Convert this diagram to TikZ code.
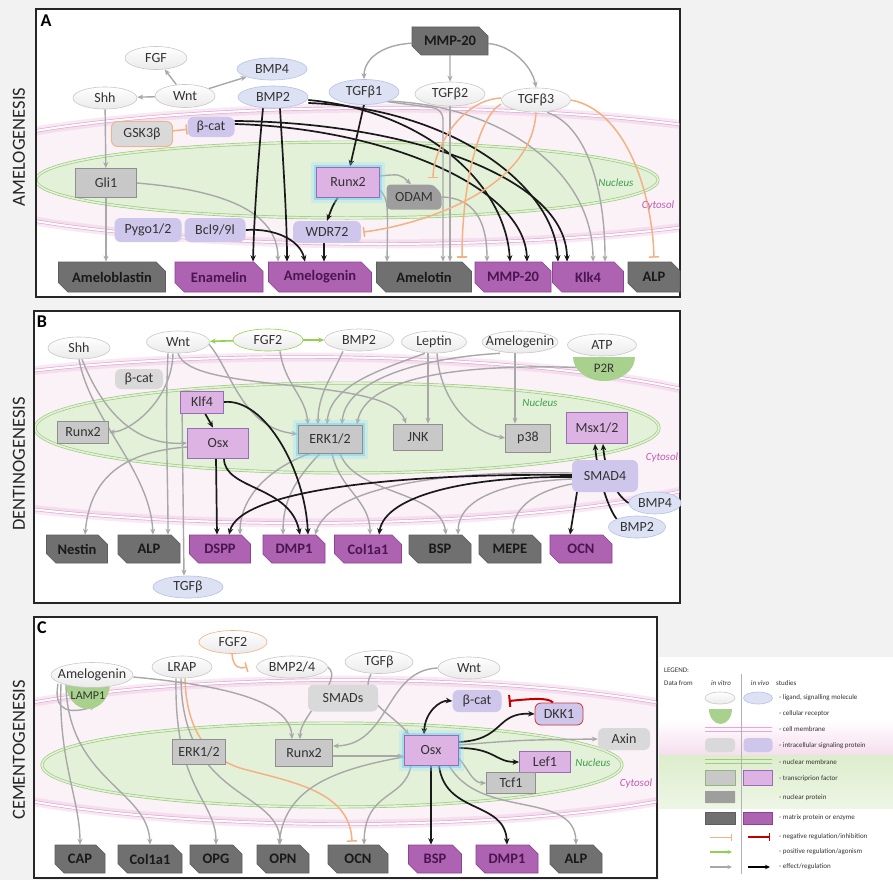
\documentclass[tikz,border=0pt]{standalone}
\usepackage{fontspec}
\setmainfont{Carlito}
\usetikzlibrary{shapes.geometric,shapes.misc,arrows.meta,calc}
\pgfdeclarelayer{bg}
\pgfdeclarelayer{edges}
\pgfsetlayers{bg,edges,main}
\definecolor{bggray}{HTML}{F2F2F2}
\definecolor{ligfill}{HTML}{EAEAEA}
\definecolor{ligdraw}{HTML}{C8C8C8}
\definecolor{vivofill}{HTML}{DCE1F4}
\definecolor{vivodraw}{HTML}{B7C0E6}
\definecolor{igray}{HTML}{D9D9D9}
\definecolor{ipurple}{HTML}{CFC7EB}
\definecolor{tfgray}{HTML}{C8C8C8}
\definecolor{tfgraydraw}{HTML}{8F8F8F}
\definecolor{tfpurple}{HTML}{DDB3E3}
\definecolor{tfpurpledraw}{HTML}{9A6BB8}
\definecolor{npgray}{HTML}{9E9E9E}
\definecolor{mgray}{HTML}{707070}
\definecolor{mgraydraw}{HTML}{5E5E5E}
\definecolor{mpurple}{HTML}{AD63B2}
\definecolor{mpurpledraw}{HTML}{8C4391}
\definecolor{mpurpletext}{HTML}{4B1650}
\definecolor{nucin}{HTML}{E4F1D9}
\definecolor{nucout}{HTML}{CDE5B6}
\definecolor{nucdraw}{HTML}{9DCC7F}
\definecolor{cellin}{HTML}{FBF2F8}
\definecolor{cellout}{HTML}{F3D5EA}
\definecolor{celldraw}{HTML}{E4A9D6}
\definecolor{arrgray}{HTML}{A8A8A8}
\definecolor{inhorange}{HTML}{F4B183}
\definecolor{inhred}{HTML}{C00000}
\definecolor{posgreen}{HTML}{92D050}
\definecolor{recgreen}{HTML}{A9D18E}
\definecolor{nuctext}{HTML}{3E9E4E}
\definecolor{cyttext}{HTML}{C05AB0}
\definecolor{legpink}{HTML}{F6DDEE}
\definecolor{leggreen}{HTML}{DCEDCC}
\pgfdeclareradialshading{nucshade}{\pgfpoint{0bp}{0bp}}{color(0bp)=(nucin); color(30bp)=(nucin); color(50bp)=(nucout)}
\pgfdeclareradialshading{cellshade}{\pgfpoint{0bp}{0bp}}{color(0bp)=(cellin); color(40bp)=(cellin); color(50bp)=(cellout)}
\tikzset{
  every node/.style={inner sep=1pt},
  sz/.style 2 args={minimum width=#1pt, minimum height=#2pt},
  txt/.style={font=\fontsize{14}{16}\selectfont, text=black!80},
  lig/.style={txt, ellipse, inner xsep=-8pt, inner ysep=-1pt, draw=ligdraw, line width=.6pt, top color=white, bottom color=ligfill},
  ligv/.style={txt, ellipse, inner xsep=-8pt, inner ysep=-1pt, draw=vivodraw, line width=.6pt, fill=vivofill},
  ig/.style={txt, rectangle, rounded corners=6pt, fill=igray},
  ip/.style={txt, rectangle, rounded corners=6pt, fill=ipurple},
  tfg/.style={txt, rectangle, fill=tfgray, draw=tfgraydraw, line width=.8pt},
  tfp/.style={txt, rectangle, fill=tfpurple, draw=tfpurpledraw, line width=.8pt},
  nucp/.style={txt, chamfered rectangle, chamfered rectangle corners=north east, chamfered rectangle xsep=6pt, rounded corners=4pt, fill=npgray},
  matg/.style={chamfered rectangle, chamfered rectangle corners={north east,south west}, chamfered rectangle xsep=7pt, fill=mgray, draw=mgraydraw, line width=.6pt, font=\fontsize{14.5}{16}\selectfont\bfseries, text=black!90},
  matp/.style={matg, fill=mpurple, draw=mpurpledraw, text=mpurpletext},
  glow/.style={preaction={draw=cyan!40, line width=11pt, opacity=.3}, preaction={draw=cyan!60, line width=5pt, opacity=.45}},
  ga/.style={draw=arrgray, line width=1.4pt, -{Stealth[length=6pt,width=5pt]}},
  ba/.style={draw=black!90, line width=1.7pt, -{Stealth[length=6.5pt,width=5.5pt]}},
  oi/.style={draw=inhorange, line width=1.5pt, -{Bar[width=10pt]}},
  ri/.style={draw=inhred, line width=2pt, -{Bar[width=12pt]}},
  gp/.style={draw=posgreen, line width=1.6pt, -{Stealth[length=6pt,width=5pt]}},
  nuclab/.style={font=\fontsize{11}{13}\selectfont\itshape, text=nuctext},
  cytlab/.style={font=\fontsize{11}{13}\selectfont\itshape, text=cyttext},
  sidelab/.style={rotate=90, font=\fontsize{18.5}{20}\selectfont, text=black!85},
  panlab/.style={font=\fontsize{18}{20}\selectfont\bfseries, text=black},
  legt/.style={font=\fontsize{7}{8.5}\selectfont, text=black!80, inner sep=0pt},
  panelbox/.style={fill=white, draw=black!85, line width=2pt},
  membrane/.style={draw=celldraw, double=white, double distance=2pt, line width=.7pt},
  nucmem/.style={draw=nucdraw, double=nucin, double distance=1.6pt, line width=.7pt},
}
\begin{document}
\begin{tikzpicture}[x=1pt, y=-1pt]
\path[use as bounding box] (0,0) rectangle (893,880);

% ---------------- backgrounds ----------------
\begin{pgfonlayer}{bg}
\fill[bggray] (0,0) rectangle (893,880);
\draw[panelbox] (36,9) rectangle (680,297);
\draw[panelbox] (34,311) rectangle (680,603);
\draw[panelbox] (34,617) rectangle (657,878);
\begin{scope}
\clip (37,10) rectangle (679,296);
\shade[shading=cellshade] (380,176) ellipse [x radius=460pt, y radius=68pt];
\draw[celldraw, line width=9pt, opacity=.25] (380,176) ellipse [x radius=460pt, y radius=68pt];
\draw[membrane] (380,176) ellipse [x radius=460pt, y radius=68pt];
\shade[shading=nucshade] (347,180) ellipse [x radius=311pt, y radius=38pt];
\draw[nucmem] (347,180) ellipse [x radius=311pt, y radius=38pt];
\end{scope}
\begin{scope}
\clip (35,312) rectangle (679,602);
\shade[shading=cellshade] (300,440) ellipse [x radius=484pt, y radius=83pt];
\draw[celldraw, line width=9pt, opacity=.25] (300,440) ellipse [x radius=484pt, y radius=83pt];
\draw[membrane] (300,440) ellipse [x radius=484pt, y radius=83pt];
\shade[shading=nucshade] (347,428) ellipse [x radius=312pt, y radius=45pt];
\draw[nucmem] (347,428) ellipse [x radius=312pt, y radius=45pt];
\end{scope}
\begin{scope}
\clip (35,618) rectangle (656,877);
\shade[shading=cellshade] (345,752) ellipse [x radius=430pt, y radius=72pt];
\draw[celldraw, line width=9pt, opacity=.25] (345,752) ellipse [x radius=430pt, y radius=72pt];
\draw[membrane] (345,752) ellipse [x radius=430pt, y radius=72pt];
\shade[shading=nucshade] (332,765) ellipse [x radius=290pt, y radius=42pt];
\draw[nucmem] (332,765) ellipse [x radius=290pt, y radius=42pt];
\end{scope}
% legend background
\fill[white] (659,657) rectangle (893,880);
\shade[top color=white, bottom color=legpink] (659,720) rectangle (893,755);
\shade[top color=leggreen, bottom color=leggreen!50!white] (659,755) rectangle (893,808);
\draw[celldraw] (705,727) -- (772,727);
\draw[celldraw] (705,731) -- (772,731);
\draw[nucdraw, line width=.8pt] (705,759) -- (772,759);
\draw[nucdraw, line width=.8pt] (705,763) -- (772,763);
\draw[gray!60, line width=.5pt] (741,674) -- (741,874);
\end{pgfonlayer}

% ---------------- side labels ----------------
\node[sidelab] (sideA) at (19,147) {AMELOGENESIS};
\node[sidelab] (sideB) at (19,464) {DENTINOGENESIS};
\node[sidelab] (sideC) at (19,750) {CEMENTOGENESIS};
\node[panlab] (labA) at (46,21) {A};
\node[panlab] (labB) at (42,322) {B};
\node[panlab] (labC) at (42,628) {C};

% ================= PANEL A =================
\node[lig, sz={62}{23}] (aFGF) at (156,58) {FGF};
\node[lig, sz={60}{23}] (aWnt) at (185,96) {Wnt};
\node[lig, sz={64}{22}] (aShh) at (105,98) {Shh};
\node[ligv, sz={70}{22}] (aBMP4) at (272,69) {BMP4};
\node[ligv, sz={70}{22}] (aBMP2) at (273,97) {BMP2};
\node[ig, draw=inhorange, line width=.9pt, sz={61}{25}] (aGSK) at (142,134) {GSK3β};
\node[ip, sz={47}{20}] (aBcat) at (211,127) {β-cat};
\node[matg, sz={76}{28}] (aMMPt) at (450,41) {MMP-20};
\node[ligv, sz={70}{25}] (aTGF1) at (364,92) {TGFβ1};
\node[lig, sz={70}{24}] (aTGF2) at (450,94) {TGFβ2};
\node[lig, sz={69}{24}] (aTGF3) at (536,100) {TGFβ3};
\node[tfg, sz={61}{29}] (aGli) at (106,183) {Gli1};
\node[tfp, glow, sz={63}{30}] (aRunx) at (348,182) {Runx2};
\node[nucp, sz={55}{25}] (aODAM) at (414,197) {ODAM};
\node[ip, sz={68}{22}] (aWDR) at (327,232) {WDR72};
\node[ip, sz={67}{24}] (aPygo) at (148,230) {Pygo1/2};
\node[ip, sz={61}{24}] (aBcl) at (215,230) {Bcl9/9l};
\node[matg, sz={107}{30}] (aAmbn) at (112,277) {Ameloblastin};
\node[matp, sz={88}{30}] (aEnam) at (219,277) {Enamelin};
\node[matp, sz={103}{30}] (aAmel) at (320,277) {Amelogenin};
\node[matg, sz={95}{30}] (aAmtn) at (424,277) {Amelotin};
\node[matp, sz={76}{30}] (aMMP) at (513,277) {MMP-20};
\node[matp, sz={71}{30}] (aKlk) at (588,277) {Klk4};
\node[matg, sz={52}{30}] (aALP) at (654,277) {ALP};
\node[nuclab] (aNucL) at (616,183) {Nucleus};
\node[cytlab] (aCytL) at (658,206) {Cytosol};

% ================= PANEL B =================
\node[lig, sz={62}{22}] (bShh) at (79,348) {Shh};
\node[lig, sz={63}{22}] (bWnt) at (178,342) {Wnt};
\node[lig, draw=posgreen, sz={70}{22}] (bFGF) at (268,340) {FGF2};
\node[lig, sz={69}{22}] (bBMP2) at (359,340) {BMP2};
\node[lig, sz={65}{22}] (bLep) at (434,342) {Leptin};
\node[lig, sz={76}{22}] (bAmel) at (520,342) {Amelogenin};
\node[lig, sz={69}{22}] (bATP) at (602,345) {ATP};
\fill[recgreen] (573,357) arc[start angle=180, end angle=360, x radius=31pt, y radius=24pt] -- cycle;
\node[txt, font=\fontsize{13}{15}\selectfont] (bP2R) at (604,368) {P2R};
\node[ig, sz={48}{20}] (bBcat) at (139,379) {β-cat};
\node[tfp, sz={43}{22}] (bKlf) at (202,402) {Klf4};
\node[tfp, sz={61}{30}] (bOsx) at (218,443) {Osx};
\node[tfg, sz={51}{22}] (bRunx) at (83,432) {Runx2};
\node[tfg, glow, sz={64}{28}] (bERK) at (330,439) {ERK1/2};
\node[tfg, sz={49}{26}] (bJNK) at (418,437) {JNK};
\node[tfg, sz={45}{28}] (bp38) at (528,438) {p38};
\node[tfp, sz={61}{31}] (bMsx) at (597,428) {Msx1/2};
\node[ip, sz={66}{32}] (bSMAD) at (605,476) {SMAD4};
\node[ligv, sz={52}{22}] (bBMP4) at (655,503) {BMP4};
\node[ligv, sz={57}{22}] (bBMP2b) at (637,527) {BMP2};
\node[matg, sz={61}{28}] (bNes) at (77,549) {Nestin};
\node[matg, sz={62}{28}] (bALP) at (149,549) {ALP};
\node[matp, sz={61}{28}] (bDSPP) at (220,549) {DSPP};
\node[matp, sz={62}{28}] (bDMP) at (294,549) {DMP1};
\node[matp, sz={67}{28}] (bCol) at (368,549) {Col1a1};
\node[matg, sz={62}{28}] (bBSP) at (440,549) {BSP};
\node[matg, sz={62}{28}] (bMEPE) at (510,549) {MEPE};
\node[matp, sz={62}{28}] (bOCN) at (581,549) {OCN};
\node[ligv, sz={70}{22}] (bTGF) at (188,587) {TGFβ};
\node[nuclab] (bNucL) at (540,403) {Nucleus};
\node[cytlab] (bCytL) at (662,458) {Cytosol};

% ================= PANEL C =================
\fill[recgreen] (66,683) arc[start angle=180, end angle=360, x radius=22pt, y radius=26pt] -- cycle;
\node[lig, sz={82}{25}] (cAmel) at (92,675) {Amelogenin};
\node[txt, font=\fontsize{12}{14}\selectfont] (cLAMP) at (88,696) {LAMP1};
\coordinate (cLAMPb) at (96,706);
\node[lig, sz={60}{22}] (cLRAP) at (182,667) {LRAP};
\node[lig, draw=inhorange, sz={68}{23}] (cFGF) at (233,642) {FGF2};
\node[lig, sz={71}{22}] (cBMP) at (292,667) {BMP2/4};
\node[lig, sz={68}{23}] (cTGF) at (379,662) {TGFβ};
\node[lig, sz={62}{22}] (cWnt) at (469,668) {Wnt};
\node[ig, sz={70}{27}] (cSMAD) at (343,698) {SMADs};
\node[ip, sz={49}{22}] (cBcat) at (477,701) {β-cat};
\node[ip, draw=inhred!80, line width=.8pt, sz={48}{22}] (cDKK) at (559,714) {DKK1};
\node[ig, sz={52}{22}] (cAxin) at (624,739) {Axin};
\node[tfg, sz={53}{25}] (cERK) at (199,752) {ERK1/2};
\node[tfg, sz={57}{27}] (cRunx) at (304,753) {Runx2};
\node[tfp, glow, sz={54}{30}] (cOsx) at (431,750) {Osx};
\node[tfp, sz={51}{21}] (cLef) at (545,762) {Lef1};
\node[tfg, sz={49}{21}] (cTcf) at (511,783) {Tcf1};
\node[nuclab] (cNucL) at (593,763) {Nucleus};
\node[cytlab] (cCytL) at (636,784) {Cytosol};
\node[matg, sz={50}{28}] (cCAP) at (80,859) {CAP};
\node[matg, sz={64}{28}] (cCol) at (150,859) {Col1a1};
\node[matg, sz={52}{28}] (cOPG) at (216,859) {OPG};
\node[matg, sz={52}{28}] (cOPN) at (283,859) {OPN};
\node[matg, sz={60}{28}] (cOCN) at (358,859) {OCN};
\node[matp, sz={53}{28}] (cBSP) at (435,859) {BSP};
\node[matp, sz={62}{28}] (cDMP) at (507,859) {DMP1};
\node[matg, sz={52}{28}] (cALP) at (576,859) {ALP};

% ================= LEGEND =================
\node[legt, anchor=west] (lgTitle) at (664,670) {LEGEND:};
\node[legt, anchor=west] (lgData) at (664,683) {Data from};
\node[legt, font=\fontsize{7}{8.5}\selectfont\itshape] (lgVitro) at (721,683) {in vitro};
\node[legt, font=\fontsize{7}{8.5}\selectfont\itshape] (lgVivo) at (760,683) {in vivo};
\node[legt, anchor=west] (lgStud) at (776,683) {studies};
\node[lig, inner sep=0pt, sz={30}{12}] (lg1a) at (720,698) {};
\node[ligv, inner sep=0pt, sz={29}{12}] (lg1b) at (758,698) {};
\node[legt, anchor=west] (lg1t) at (779,698) {- ligand, signalling molecule};
\fill[recgreen] (709,709) arc[start angle=180, end angle=360, x radius=11.5pt, y radius=15pt] -- cycle;
\node[legt, anchor=west] (lg2t) at (779,714) {- cellular receptor};
\node[legt, anchor=west] (lg3t) at (779,729) {- cell membrane};
\node[ig, rounded corners=4pt, inner sep=0pt, sz={30}{14}] (lg4a) at (720,745) {};
\node[ip, rounded corners=4pt, inner sep=0pt, sz={29}{14}] (lg4b) at (758,745) {};
\node[legt, anchor=west] (lg4t) at (779,746) {- intracellular signaling protein};
\node[legt, anchor=west] (lg5t) at (779,762) {- nuclear membrane};
\node[tfg, draw=nucdraw!70!gray, line width=1pt, inner sep=0pt, sz={30}{15}] (lg6a) at (720,778) {};
\node[tfp, inner sep=0pt, sz={29}{15}] (lg6b) at (758,778) {};
\node[legt, anchor=west] (lg6t) at (779,779) {- transcriprion factor};
\node[chamfered rectangle, chamfered rectangle corners=north east, chamfered rectangle xsep=4pt, chamfered rectangle ysep=4pt, fill=npgray, inner sep=0pt, font=\tiny, sz={30}{12}] (lg7a) at (720,797) {};
\node[legt, anchor=west] (lg7t) at (779,798) {- nuclear protein};
\node[matg, chamfered rectangle xsep=4pt, inner sep=0pt, sz={30}{12}, font=\tiny] (lg8a) at (720,818) {};
\node[matp, chamfered rectangle xsep=4pt, inner sep=0pt, sz={29}{12}, font=\tiny] (lg8b) at (758,818) {};
\node[legt, anchor=west] (lg8t) at (779,818) {- matrix protein or enzyme};
\coordinate (lg9a1) at (710,837); \coordinate (lg9a2) at (732,837);
\coordinate (lg9b1) at (748,837); \coordinate (lg9b2) at (770,837);
\node[legt, anchor=west] (lg9t) at (779,837) {- negative regulation/inhibition};
\coordinate (lg10a1) at (710,852); \coordinate (lg10a2) at (732,852);
\node[legt, anchor=west] (lg10t) at (779,852) {- positive regulation/agonism};
\coordinate (lg11a1) at (710,867); \coordinate (lg11a2) at (732,867);
\coordinate (lg11b1) at (748,867); \coordinate (lg11b2) at (770,867);
\node[legt, anchor=west] (lg11t) at (779,867) {- effect/regulation};
\draw[inhorange, line width=1pt, -{Bar[width=7pt]}] (lg9a1) -- (lg9a2);
\draw[inhred, line width=1.3pt, -{Bar[width=8pt]}] (lg9b1) -- (lg9b2);
\draw[posgreen, line width=1.2pt, -{Stealth[length=4.5pt,width=4pt]}] (lg10a1) -- (lg10a2);
\draw[arrgray, line width=1.2pt, -{Stealth[length=4.5pt,width=4pt]}] (lg11a1) -- (lg11a2);
\draw[black, line width=1.4pt, -{Stealth[length=5pt,width=4.5pt]}] (lg11b1) -- (lg11b2);

% ================= EDGES =================
\begin{pgfonlayer}{edges}
% ---- A
\draw[ga] (aWnt) -- (aFGF);
\draw[ga] (aWnt) -- (aShh);
\draw[ga] (aWnt) -- (aBMP4);
\draw[oi] (aGSK) -- (aBcat);
\draw[ga] (aShh) -- (aGli);
\draw[ga] (aGli.south) -- (aGli.south |- aAmbn.north);
\draw[ga] (aGli.east) .. controls (220,190) and (278,210) .. ([xshift=-42pt]aAmel.north);
\draw[ga] (aMMPt) .. controls (380,45) and (364,60) .. (aTGF1.north);
\draw[ga] (aMMPt) -- (aTGF2);
\draw[ga] (aMMPt) .. controls (510,45) and (532,65) .. (aTGF3.north);
\draw[ba] ([xshift=-10pt]aBMP2.south) .. controls (258,160) and (254,220) .. ([xshift=34pt]aEnam.north);
\draw[ba] ([xshift=7pt]aBMP2.south) .. controls (283,160) and (287,220) .. ([xshift=-33pt]aAmel.north);
\draw[ba] ([yshift=-3pt]aBMP2.east) .. controls (420,110) and (505,180) .. ([xshift=-3pt]aMMP.north);
\draw[ba] ([yshift=-6pt]aBMP2.east) .. controls (450,108) and (555,185) .. ([xshift=-30pt]aKlk.north);
\draw[ba] ([yshift=3pt]aBcat.east) .. controls (380,128) and (525,185) .. ([xshift=14pt]aMMP.north);
\draw[ba] ([yshift=6pt]aBcat.east) .. controls (400,122) and (567,175) .. ([xshift=-21pt]aKlk.north);
\draw[ba] (aTGF1.south) -- ([xshift=2pt]aRunx.north);
\draw[ga] ([yshift=6pt]aRunx.east) .. controls (400,174) .. ([xshift=-3pt]aODAM.north);
\draw[ba] ([xshift=-10pt]aRunx.south) .. controls (333,205) .. (aWDR.north);
\draw[ga] ([yshift=-8pt]aRunx.east) .. controls (388,200) .. ([xshift=-37pt]aAmtn.north);
\draw[ga, rounded corners=10pt] ([xshift=-6pt]aTGF1.south east) -- (443,109) -- ([xshift=19pt]aAmtn.north);
\draw[ga] (aTGF2.south) -- (aTGF2.south |- aAmtn.north);
\draw[ga] ([xshift=-2pt]aTGF1.south east) .. controls (500,105) and (593,170) .. ([xshift=5pt]aKlk.north);
\draw[ga] ([xshift=11pt]aTGF3.south) .. controls (585,125) and (605,185) .. ([xshift=17pt]aKlk.north);
\draw[ga] (aODAM.east) .. controls (480,198) and (487,230) .. ([xshift=-26pt]aMMP.north);
\draw[ba] ([xshift=-3pt]aWDR.south) -- ([xshift=4pt]aAmel.north);
\draw[ba] (aBcl.east) .. controls (275,228) and (300,240) .. ([xshift=-15pt]aAmel.north);
\draw[oi] ([yshift=2pt]aTGF3.west) .. controls (460,100) and (433,150) .. ([xshift=19pt,yshift=6pt]aODAM.north);
\draw[oi] ([yshift=-4pt]aTGF3.west) .. controls (480,115) and (462,180) .. ([xshift=38pt,yshift=4pt]aAmtn.north);
\draw[oi] (aTGF3.south) .. controls (532,190) and (420,225) .. ([xshift=2pt]aWDR.east);
\draw[oi] (aTGF3.east) .. controls (625,110) and (652,190) .. ([yshift=4pt]aALP.north);
% ---- B
\draw[gp] (bFGF) -- (bWnt);
\draw[gp] (bFGF) -- (bBMP2);
\draw[ga] ([xshift=-5pt]bWnt.south) .. controls (172,400) and (130,432) .. (bRunx.east);
\draw[ga] ([xshift=-10pt]bWnt.south) .. controls (165,420) and (168,480) .. ([xshift=19pt]bALP.north);
\draw[ga] (bShh.south) .. controls (90,420) and (150,470) .. ([xshift=4pt]bALP.north);
\draw[ga] ([xshift=3pt]bShh.south) .. controls (110,430) and (150,445) .. (bOsx.west);
\draw[ga] ([yshift=-4pt]bOsx.west) .. controls (120,452) and (90,480) .. ([xshift=8pt]bNes.north);
\draw[ga] ([xshift=2pt]bKlf.south west) -- ([xshift=-4pt]bTGF.north);
\draw[ga] ([xshift=-3pt]bWnt.east) .. controls (230,365) and (240,428) .. ([yshift=5pt]bERK.west);
\draw[ga] (bWnt.south) .. controls (190,395) and (390,375) .. ([xshift=-12pt]bJNK.north);
\draw[ga] ([xshift=12pt]bFGF.south) .. controls (285,385) and (305,395) .. ([xshift=-22pt]bERK.north);
\draw[ga] ([xshift=-16pt]bBMP2.south) .. controls (330,380) and (318,395) .. ([xshift=-12pt]bERK.north);
\draw[ga] ([xshift=-9pt]bLep.south) .. controls (380,370) and (330,385) .. ([xshift=-3pt]bERK.north);
\draw[ga] ([xshift=-20pt]bAmel.south) .. controls (420,358) and (345,380) .. ([xshift=12pt]bERK.north);
\draw[ga] (bP2R.west) .. controls (450,362) and (365,380) .. ([xshift=27pt]bERK.north);
\draw[ga] ([xshift=-6pt]bLep.south) -- ([xshift=10pt]bJNK.north);
\draw[ga] ([xshift=3pt]bLep.south) .. controls (440,400) and (470,432) .. (bp38.west);
\draw[ga] ([xshift=-5pt]bAmel.south) -- ([xshift=-13pt]bp38.north);
\draw[ga] ([xshift=-20pt]bERK.south) .. controls (265,470) and (240,500) .. ([xshift=20pt]bDSPP.north);
\draw[ga] ([xshift=-10pt]bERK.south) .. controls (295,480) and (283,500) .. ([xshift=-11pt]bDMP.north);
\draw[ga] ([xshift=2pt]bERK.south) .. controls (340,490) and (370,500) .. ([xshift=2pt]bCol.north);
\draw[ga] ([xshift=10pt]bERK.south) .. controls (355,495) and (440,490) .. ([xshift=6pt]bBSP.north);
\draw[ga] ([yshift=-3pt]bSMAD.west) .. controls (500,482) and (458,500) .. ([xshift=18pt]bBSP.north);
\draw[ga] ([yshift=-8pt]bSMAD.west) .. controls (540,490) and (513,505) .. ([xshift=3pt]bMEPE.north);
\draw[ga] ([yshift=3pt]bSMAD.west) .. controls (430,470) and (330,490) .. ([xshift=21pt]bDMP.north);
\draw[ba] ([yshift=1pt]bSMAD.west) .. controls (400,473) and (240,490) .. ([xshift=9pt]bDSPP.north);
\draw[ba] ([yshift=-1pt]bSMAD.west) .. controls (470,476) and (385,495) .. ([xshift=11pt]bCol.north);
\draw[ba] ([xshift=-28pt]bSMAD.south) -- ([xshift=-11pt]bOCN.north);
\draw[ba] (bBMP2b.north west) .. controls (606,505) and (597,470) .. ([xshift=-2pt]bMsx.south);
\draw[ba] (bBMP4.west) .. controls (615,495) and (605,470) .. ([xshift=6pt]bMsx.south);
\draw[ba] ([xshift=3pt]bKlf.south) -- ([xshift=-5pt]bOsx.north);
\draw[ba] (bKlf.east) .. controls (265,398) and (305,470) .. ([xshift=14pt]bDMP.north);
\draw[ba] ([xshift=-2pt]bOsx.south) -- ([xshift=-3pt]bDSPP.north);
\draw[ba] ([xshift=6pt]bOsx.south) .. controls (224,490) and (290,485) .. ([xshift=6pt]bDMP.north);
% ---- C
\draw[oi] ([xshift=-1pt]cFGF.south) .. controls (233,668) and (240,669) .. ([xshift=-9pt]cBMP.west);
\draw[oi] ([xshift=3pt]cLRAP.south) .. controls (186,720) and (200,755) .. (240,768) .. controls (290,782) and (350,790) .. ([xshift=-6pt,yshift=3pt]cOCN.north);
\draw[ga] ([xshift=-34pt,yshift=4pt]cAmel.south) .. controls (53,712) and (70,714) .. (cLAMPb);
\draw[ga] ([xshift=-31pt,yshift=4pt]cAmel.south) .. controls (58,760) and (80,800) .. (cCAP.north);
\draw[ga] ([xshift=-26pt,yshift=3pt]cAmel.south) .. controls (68,780) and (148,790) .. (cCol.north);
\draw[ga] ([yshift=-2pt]cAmel.east) .. controls (220,685) and (290,700) .. ([xshift=-12pt]cRunx.north);
\draw[ga] ([xshift=-6pt]cLRAP.south) .. controls (174,790) and (216,800) .. (cOPG.north);
\draw[ga] ([xshift=-1pt]cLRAP.south) .. controls (182,800) and (280,790) .. ([xshift=-3pt]cOPN.north);
\draw[ga] (cBMP.east) .. controls (345,680) and (300,715) .. ([xshift=-4pt]cRunx.north);
\draw[ga] ([xshift=-8pt]cTGF.south) .. controls (358,700) and (390,712) .. ([xshift=-22pt]cOsx.north);
\draw[ga] (cWnt.west) .. controls (385,670) and (390,745) .. ([yshift=7pt]cRunx.east);
\draw[ga] ([yshift=-3pt]cRunx.east) -- ([yshift=-3pt]cRunx.east -| cOsx.west);
\draw[ga] ([yshift=5pt]cOsx.east) .. controls (520,740) .. (cAxin.west);
\draw[ga] ([yshift=-8pt]cOsx.east) .. controls (468,768) and (472,783) .. (cTcf.west);
\draw[ga] ([yshift=-7pt]cOsx.west) .. controls (330,770) and (285,790) .. ([xshift=-4pt]cOPN.north);
\draw[ga] ([xshift=-20pt]cOsx.south) .. controls (405,800) and (365,790) .. ([xshift=6pt]cOCN.north);
\draw[ga] ([xshift=18pt]cOsx.south) .. controls (480,820) and (575,790) .. (cALP.north);
\draw[ba, {Stealth[length=6.5pt,width=5.5pt]}-{Stealth[length=6.5pt,width=5.5pt]}] ([xshift=-7pt]cOsx.north) .. controls (425,712) and (440,700) .. (cBcat.west);
\draw[ba] ([yshift=8pt]cOsx.east) .. controls (505,740) and (495,712) .. (cDKK.west);
\draw[ba] ([yshift=2pt]cOsx.east) .. controls (495,748) and (495,762) .. (cLef.west);
\draw[ba] (cOsx.south) -- (cOsx.south |- cBSP.north);
\draw[ba] ([xshift=8pt]cOsx.south) .. controls (445,815) and (505,800) .. (cDMP.north);
\draw[ri] ([xshift=-6pt]cDKK.north) .. controls (548,697) and (530,699) .. ([xshift=7pt]cBcat.east);
\end{pgfonlayer}
\end{tikzpicture}
\end{document}
